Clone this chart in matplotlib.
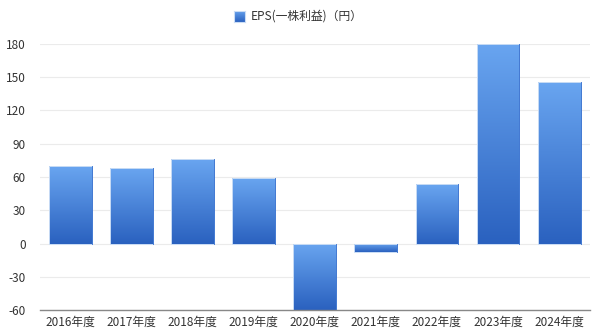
import numpy as np
import matplotlib.pyplot as plt
from matplotlib.colors import LinearSegmentedColormap
from matplotlib.patches import Rectangle

plt.rcParams['font.family'] = ['Noto Sans CJK JP', 'DejaVu Sans']

# EPS per fiscal year (yen)
years = ["2016年度", "2017年度", "2018年度", "2019年度", "2020年度",
         "2021年度", "2022年度", "2023年度", "2024年度"]
eps = [70, 68, 76, 59, -60, -8, 54, 180, 145]
yticks = [-60, -30, 0, 30, 60, 90, 120, 150, 180]
series_name = "EPS(一株利益)（円）"

grad = LinearSegmentedColormap.from_list("bar", ["#2a61bf", "#69a5f0"])
gradient = np.linspace(0, 1, 256).reshape(-1, 1)

fig = plt.figure(figsize=(6, 3.35), dpi=100)
ax = fig.add_axes([0.066, 0.074, 0.917, 0.796])

x = np.arange(len(years))
width = 0.7
ax.set_xlim(-0.5, len(years) - 0.5)
ax.set_ylim(-60, 180)

for xi, v in zip(x, eps):
    x0, x1 = xi - width / 2, xi + width / 2
    lo, hi = min(0, v), max(0, v)
    # vertical gradient, light at the top
    im = ax.imshow(gradient, cmap=grad, origin="lower", aspect="auto",
                   extent=(x0, x1, lo, hi), zorder=2)
    rect = Rectangle((x0, lo), width, hi - lo, facecolor="none",
                     edgecolor="#c9dcf5", linewidth=0.7, zorder=3,
                     clip_on=False)
    ax.add_patch(rect)
    im.set_clip_path(rect)
    ax.plot([x1, x1], [lo, hi], color="#2c68cc", linewidth=0.6, zorder=3,
            clip_on=False)

ax.set_yticks(yticks)
ax.set_yticklabels([str(t) for t in yticks])
ax.set_xticks(x)
ax.set_xticklabels(years)
ax.tick_params(axis="both", length=0, labelsize=8.5, colors="#333333")
ax.tick_params(axis="x", pad=4)
ax.tick_params(axis="y", pad=10)
ax.grid(axis="y", color="#ebebeb", linewidth=0.8, zorder=0)
for side in ["top", "right", "left"]:
    ax.spines[side].set_visible(False)
ax.spines["bottom"].set_color("#888888")
ax.spines["bottom"].set_linewidth(1.0)
ax.spines["bottom"].set_zorder(4)

# legend in the top margin
lax = fig.add_axes([0.39, 0.935, 0.018, 0.033])
lax.imshow(gradient, cmap=grad, origin="lower", aspect="auto")
for s in lax.spines.values():
    s.set_color("#c9dcf5")
lax.set_xticks([])
lax.set_yticks([])
fig.text(0.418, 0.951, series_name, fontsize=8.5, color="#333333",
         va="center", ha="left")

fig.savefig("out.png", dpi=100)
